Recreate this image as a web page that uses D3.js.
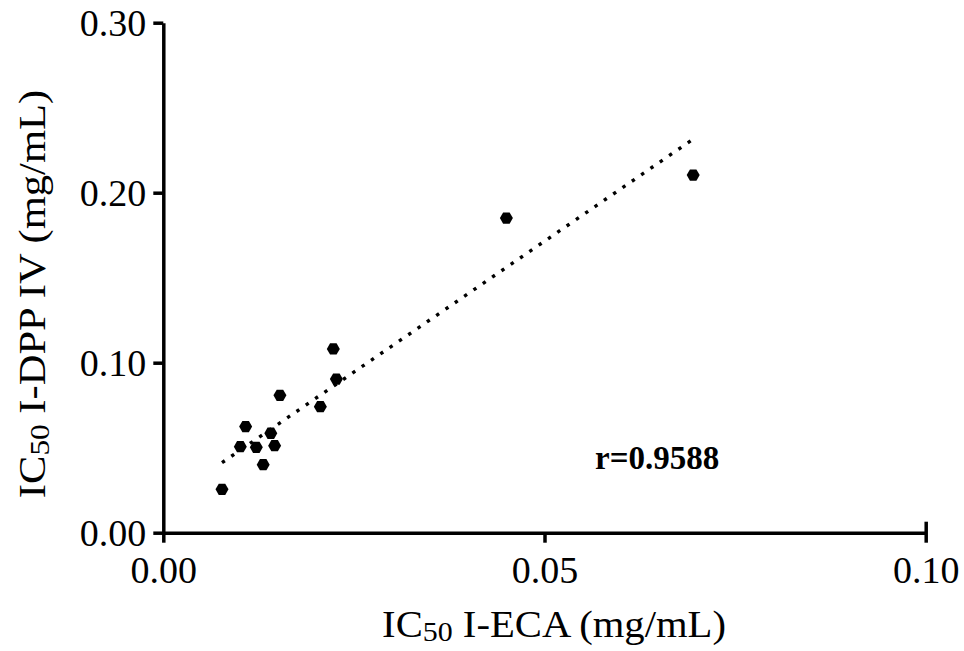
<!DOCTYPE html>
<html>
<head>
<meta charset="utf-8">
<script src="https://cdn.jsdelivr.net/npm/d3@7"></script>
<style>
  body { margin: 0; background: #fff; }
  text { font-family: "Liberation Serif", "Times New Roman", serif; fill: #000; }
</style>
</head>
<body>
<div id="chart"></div>
<script>
// values
var ecaValues  = [0.0077, 0.0101, 0.0108, 0.0122, 0.0131, 0.0141, 0.0146, 0.0153, 0.0206, 0.0227, 0.0223, 0.0450, 0.0695];
var dppValues  = [0.0255, 0.0506, 0.0624, 0.0502, 0.0400, 0.0585, 0.0512, 0.0808, 0.0741, 0.0904, 0.1081, 0.1851, 0.2104];
var fitX = [0.0077, 0.0695];
var fitY = [0.0412, 0.2315];
var xTicks = [0, 0.05, 0.1];
var yTicks = [0, 0.1, 0.2, 0.3];
var rLabel = "r=0.9588";

var w = 964, h = 651;
var plotLeft = 163.3, plotRight = 925.7, plotTop = 22.7, plotBottom = 532.7;

var svg = d3.select("#chart").append("svg")
    .attr("width", w)
    .attr("height", h);

var x = d3.scaleLinear().domain([0, 0.1]).range([plotLeft, plotRight]);
var y = d3.scaleLinear().domain([0, 0.3]).range([plotBottom, plotTop]);

// y axis
var yAxis = svg.append("g")
    .attr("transform", "translate(" + plotLeft + ",0)")
    .call(d3.axisLeft(y).tickValues(yTicks).tickFormat(d3.format(".2f")).tickSize(10).tickSizeOuter(0));
yAxis.select(".domain").attr("stroke-width", 3.5);
yAxis.selectAll(".tick line").attr("stroke-width", 3.5);
yAxis.selectAll(".tick text")
    .attr("x", -17)
    .attr("dy", "0.34em")
    .style("font-size", "38px");

// x axis
var xAxis = svg.append("g")
    .attr("transform", "translate(0," + plotBottom + ")")
    .call(d3.axisBottom(x).tickValues(xTicks).tickFormat(d3.format(".2f")).tickSize(10).tickSizeOuter(0));
xAxis.select(".domain").attr("stroke-width", 3.5);
xAxis.selectAll(".tick line")
    .attr("stroke-width", 3.5)
    .attr("y1", d => d === 0.1 ? -11 : 0);
xAxis.selectAll(".tick text")
    .attr("y", 50)
    .attr("dy", "0")
    .style("font-size", "38px");

// regression line (dotted)
var line = d3.line().x(d => x(d[0])).y(d => y(d[1]));
svg.append("path")
    .datum(d3.zip(fitX, fitY))
    .attr("d", line)
    .attr("fill", "none")
    .attr("stroke", "#000")
    .attr("stroke-width", 3.4)
    .attr("stroke-dasharray", "3.4,7.9");

// hexagon markers
function hexagon(r) {
    var pts = d3.range(6).map(i => {
        var a = Math.PI / 3 * i;
        return [r * Math.cos(a), r * Math.sin(a)];
    });
    return "M" + pts.map(p => p.join(",")).join("L") + "Z";
}

svg.selectAll(".pt")
    .data(d3.zip(ecaValues, dppValues))
    .enter()
    .append("path")
    .attr("class", "pt")
    .attr("d", hexagon(6.5))
    .attr("transform", d => "translate(" + x(d[0]) + "," + y(d[1]) + ")")
    .attr("fill", "#000");

// r label
svg.append("text")
    .attr("x", 595)
    .attr("y", 469)
    .style("font-size", "33px")
    .style("font-weight", "bold")
    .text(rLabel);

// axis titles
var xt = svg.append("text")
    .attr("transform", "translate(554,637) scale(1.07,1)")
    .attr("text-anchor", "middle")
    .style("font-size", "38px");
xt.append("tspan").text("IC");
xt.append("tspan").attr("dy", 4).style("font-size", "28px").text("50");
xt.append("tspan").attr("dy", -4).text(" I-ECA (mg/mL)");

var yt = svg.append("text")
    .attr("transform", "translate(45,294) rotate(-90) scale(1.12,1)")
    .attr("text-anchor", "middle")
    .style("font-size", "38px");
yt.append("tspan").text("IC");
yt.append("tspan").attr("dy", 4).style("font-size", "28px").text("50");
yt.append("tspan").attr("dy", -4).text(" I-DPP IV (mg/mL)");
</script>
</body>
</html>
